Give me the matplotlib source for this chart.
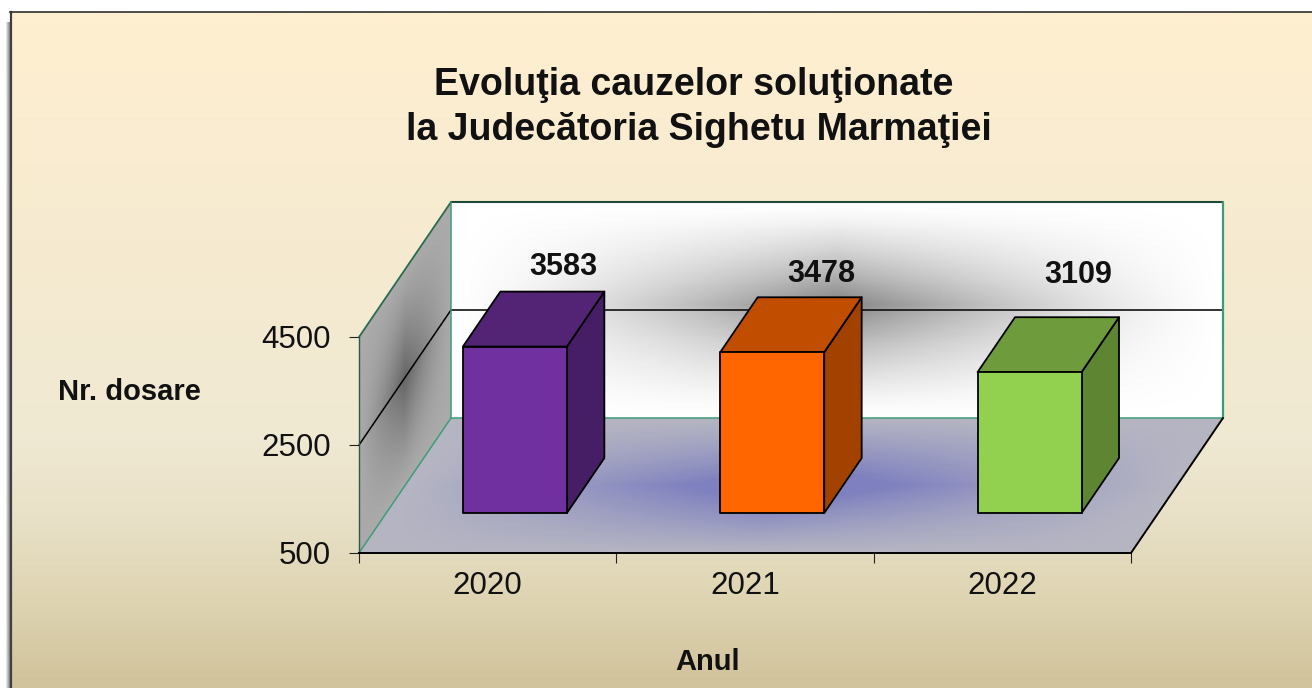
import numpy as np
import matplotlib
matplotlib.use('Agg')
import matplotlib.pyplot as plt
from matplotlib.patches import Polygon

plt.rcParams['font.family'] = ['Liberation Sans', 'DejaVu Sans']

years = ['2020', '2021', '2022']
dosare = [3583, 3478, 3109]
yticks = [500, 2500, 4500]
bar_front = ['#7030a0', '#ff6600', '#92d050']
bar_top = ['#532375', '#c04d00', '#6e9c3c']
bar_side = ['#461e66', '#a34200', '#5e8532']
label_dy = [80, 78, 97]

W, H = 1312, 688
fig = plt.figure(figsize=(W / 100, H / 100), dpi=100, facecolor='white')

# background panel
bg = fig.add_axes([0, 0, 1, 1])
bg.set_xlim(0, W)
bg.set_ylim(H, 0)
bg.axis('off')
stops_y = [12, 200, 430, 520, 600, 688]
stops_r = [255, 247, 240, 232, 222, 208]
stops_g = [239, 235, 233, 224, 212, 194]
stops_b = [209, 208, 211, 198, 178, 154]
yy = np.arange(H)
grad = np.stack([np.interp(yy, stops_y, stops_r),
                 np.interp(yy, stops_y, stops_g),
                 np.interp(yy, stops_y, stops_b)], axis=1)[:, None, :] / 255
bg.imshow(grad, extent=[10, W, H, 12], aspect='auto', zorder=1)
# shadow on the left
shadow = np.linspace(1, 0.55, 5)[None, :, None] * np.ones((H - 22, 5, 3))
bg.imshow(shadow, extent=[5, 10, H, 22], aspect='auto', zorder=1)
bg.set_xlim(0, W)
bg.set_ylim(H, 0)
bg.plot([10.5, 10.5], [12, H], color='#404040', lw=1.6, zorder=3)
bg.plot([10, W], [12, 12], color='#303030', lw=1.2, zorder=3)

# chart axes: front edge of the floor and the left value axis
ax = fig.add_axes([359 / W, 1 - 553 / H, (1131 - 359) / W, (553 - 337) / H])
ax.set_xlim(0, 3)
ax.set_ylim(500, 4500)
ax.patch.set_alpha(0)
for s in ['top', 'right']:
    ax.spines[s].set_visible(False)
ax.spines['left'].set_color('#2a5a48')
ax.spines['left'].set_linewidth(1)
ax.spines['bottom'].set_color('black')
ax.spines['bottom'].set_linewidth(1.4)

ax.set_yticks(yticks)
ax.set_yticklabels([str(v) for v in yticks], fontsize=22.5, color='#111111')
ax.set_xticks([0, 1, 2, 3])
ax.set_xticklabels([])
ax.set_xticks([0.5, 1.5, 2.5], minor=True)
ax.set_xticklabels(years, minor=True, fontsize=22.5, color='#111111')
ax.tick_params(axis='x', which='major', length=7, width=0.8, color='#222222')
ax.tick_params(axis='x', which='minor', length=0, pad=13)
ax.tick_params(axis='y', length=7, width=0.8, color='#222222', pad=13)

# depth shear, full depth is 92 px right and 135 px up
DX = 92 / ((1131 - 359) / 3)
DY = 135 / ((553 - 337) / 4000)
Y0, Y1 = 500, 4500


def proj(x, y, d):
    return x + d * DX, y + d * DY


def shade(X, Y, C, z):
    ax.pcolormesh(X, Y, C, shading='auto', antialiased=False, zorder=z, clip_on=False, linewidth=0)


n = 220
a = np.linspace(0, 1, n + 1)
ac = (a[:-1] + a[1:]) / 2

# back wall
U, V = np.meshgrid(a, a)
X, Y = proj(U * 3, Y0 + V * (Y1 - Y0), 1)
u, v = np.meshgrid(ac * 2 - 1, ac * 2 - 1)
vv = np.where(v > 0.05, (v - 0.05) / 0.95, (0.05 - v) / 1.05)
g = 255 - 125 * ((1 - np.abs(u)) * (1 - vv)) ** 1.35
shade(X, Y, np.dstack([g, g, g]) / 255, 1)

# left wall
X, Y = proj(np.zeros_like(U), Y0 + V * (Y1 - Y0), U)
g = 170 - 70 * ((1 - np.abs(u)) * (1 - np.abs(v))) ** 1.2
shade(X, Y, np.dstack([g, g, g]) / 255, 1)

# floor
X, Y = proj(U * 3, np.full_like(U, Y0), V)
t = ((1 - np.abs(u)) * (1 - np.abs(v))) ** 1.1
t = np.clip(t * 1.4, 0, 1)
shade(X, Y, np.dstack([181 - 55 * t, 181 - 53 * t, 194 - 3 * t]) / 255, 1)


def line3d(p0, p1, **kw):
    ax.plot([p0[0], p1[0]], [p0[1], p1[1]], clip_on=False, solid_capstyle='round', **kw)


green = '#3f9c78'
# grid lines on the walls
line3d(proj(0, 2500, 0), proj(0, 2500, 1), color='black', lw=1.1, zorder=2)
line3d(proj(0, 2500, 1), proj(3, 2500, 1), color='#111111', lw=1.2, zorder=2)
# wall and floor edges
line3d(proj(0, Y1, 1), proj(3, Y1, 1), color='#1f4a3a', lw=1.5, zorder=2)
line3d(proj(0, Y1, 0), proj(0, Y1, 1), color='#2a6a50', lw=1.3, zorder=2)
line3d(proj(0, Y0, 1), proj(0, Y1, 1), color=green, lw=1.1, zorder=2)
line3d(proj(3, Y0, 1), proj(3, Y1, 1), color=green, lw=1.6, zorder=2)
line3d(proj(0, Y0, 1), proj(3, Y0, 1), color=green, lw=1.1, zorder=2)
line3d(proj(0, Y0, 0), proj(0, Y0, 1), color=green, lw=1.1, zorder=2)
line3d(proj(3, Y0, 0), proj(3, Y0, 1), color='black', lw=1.4, zorder=2)

# bars
bw = 104 / ((1131 - 359) / 3)
d0, d1 = 0.296, 0.703
for i, val in enumerate(dosare):
    xl, xr = i + 0.5 - bw / 2, i + 0.5 + bw / 2
    front = [proj(xl, Y0, d0), proj(xr, Y0, d0), proj(xr, val, d0), proj(xl, val, d0)]
    top = [proj(xl, val, d0), proj(xr, val, d0), proj(xr, val, d1), proj(xl, val, d1)]
    side = [proj(xr, Y0, d0), proj(xr, Y0, d1), proj(xr, val, d1), proj(xr, val, d0)]
    for pts, col in [(side, bar_side[i]), (top, bar_top[i]), (front, bar_front[i])]:
        ax.add_patch(Polygon(pts, closed=True, facecolor=col, edgecolor='black', lw=1.3,
                             joinstyle='round', zorder=3 + i, clip_on=False))
    ax.annotate(str(val), xy=proj(i + 0.5, val, d0), xytext=(35, label_dy[i] * 0.72),
                textcoords='offset points', ha='center', va='center', fontsize=22,
                fontweight='bold', color='#111111', zorder=10, annotation_clip=False)

# titles
fig.text(694 / W, 1 - 85 / H, 'Evoluţia cauzelor soluţionate', ha='center', va='center',
         fontsize=27, fontweight='bold', color='#111111')
fig.text(699 / W, 1 - 130 / H, 'la Judecătoria Sighetu Marmaţiei', ha='center', va='center',
         fontsize=27, fontweight='bold', color='#111111')
fig.text(129 / W, 1 - 392 / H, 'Nr. dosare', ha='center', va='center',
         fontsize=21, fontweight='bold', color='#111111')
fig.text(708 / W, 1 - 662 / H, 'Anul', ha='center', va='center',
         fontsize=21, fontweight='bold', color='#111111')

fig.savefig('out.png', dpi=100)
